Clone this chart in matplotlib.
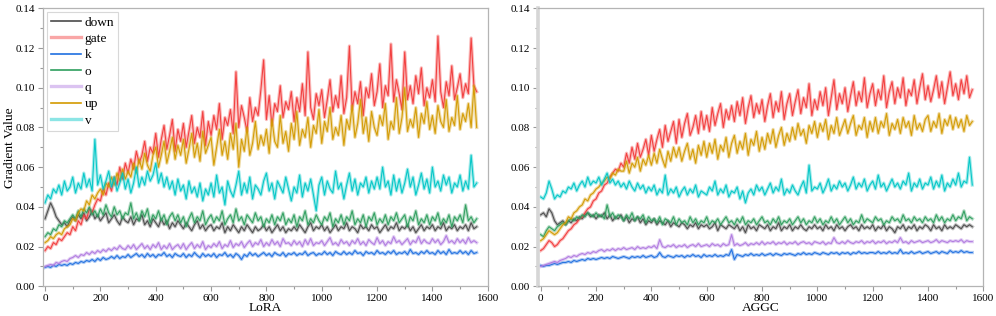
import numpy as np
import matplotlib
matplotlib.use("Agg")
import matplotlib.pyplot as plt
from matplotlib.lines import Line2D
from matplotlib.ticker import MultipleLocator, FormatStrFormatter

plt.rcParams['font.family'] = ['Liberation Serif', 'DejaVu Serif']

# ---------------- data (gradient values sampled every 10 steps) ----------------
sample_every = 10
modules = ["down", "gate", "k", "o", "q", "up", "v"]
panel_titles = ["LoRA", "AGGC"]
y_label = "Gradient Value"

lora_down = [
    0.034, 0.038, 0.042, 0.039, 0.035, 0.033, 0.031, 0.032, 0.030, 0.033,
    0.035, 0.033, 0.036, 0.034, 0.037, 0.033, 0.035, 0.038, 0.034, 0.036,
    0.033, 0.035, 0.037, 0.032, 0.034, 0.036, 0.033, 0.031, 0.035, 0.033,
    0.032, 0.035, 0.031, 0.034, 0.033, 0.036, 0.031, 0.033, 0.030, 0.034,
    0.032, 0.030, 0.034, 0.031, 0.033, 0.029, 0.032, 0.030, 0.033, 0.031,
    0.029, 0.032, 0.030, 0.028, 0.031, 0.033, 0.029, 0.031, 0.028, 0.030,
    0.031, 0.028, 0.030, 0.029, 0.032, 0.027, 0.030, 0.028, 0.031, 0.029,
    0.027, 0.030, 0.028, 0.031, 0.029, 0.027, 0.030, 0.028, 0.029, 0.031,
    0.028, 0.030, 0.027, 0.029, 0.031, 0.028, 0.030, 0.027, 0.029, 0.028,
    0.030, 0.028, 0.031, 0.029, 0.027, 0.030, 0.032, 0.028, 0.030, 0.029,
    0.031, 0.028, 0.030, 0.027, 0.029, 0.031, 0.028, 0.030, 0.029, 0.032,
    0.028, 0.030, 0.029, 0.027, 0.031, 0.029, 0.030, 0.028, 0.031, 0.029,
    0.030, 0.027, 0.029, 0.031, 0.028, 0.030, 0.029, 0.032, 0.028, 0.030,
    0.029, 0.031, 0.028, 0.030, 0.027, 0.029, 0.031, 0.028, 0.030, 0.029,
    0.031, 0.028, 0.030, 0.029, 0.032, 0.028, 0.030, 0.029, 0.031, 0.028,
    0.030, 0.029, 0.031, 0.028, 0.032, 0.029, 0.030]

lora_gate = [
    0.018, 0.020, 0.019, 0.022, 0.021, 0.024, 0.023, 0.025, 0.027, 0.026,
    0.030, 0.028, 0.033, 0.031, 0.036, 0.034, 0.039, 0.037, 0.041, 0.044,
    0.043, 0.049, 0.046, 0.052, 0.048, 0.055, 0.051, 0.060, 0.054, 0.062,
    0.057, 0.064, 0.059, 0.068, 0.062, 0.066, 0.073, 0.063, 0.070, 0.067,
    0.077, 0.065, 0.074, 0.081, 0.069, 0.076, 0.084, 0.068, 0.079, 0.073,
    0.082, 0.070, 0.078, 0.086, 0.072, 0.080, 0.075, 0.088, 0.071, 0.083,
    0.076, 0.086, 0.079, 0.092, 0.074, 0.085, 0.081, 0.089, 0.077, 0.108,
    0.080, 0.091, 0.085, 0.078, 0.095, 0.083, 0.090, 0.086, 0.099, 0.114,
    0.084, 0.096, 0.081, 0.092, 0.088, 0.101, 0.085, 0.093, 0.089, 0.098,
    0.083, 0.095, 0.088, 0.102, 0.086, 0.118, 0.090, 0.084, 0.097, 0.091,
    0.099, 0.085, 0.094, 0.104, 0.088, 0.096, 0.090, 0.106, 0.087, 0.095,
    0.121, 0.089, 0.098, 0.092, 0.103, 0.086, 0.100, 0.095, 0.107, 0.091,
    0.098, 0.112, 0.090, 0.101, 0.096, 0.122, 0.093, 0.104, 0.097, 0.089,
    0.118, 0.094, 0.101, 0.092, 0.106, 0.097, 0.110, 0.091, 0.100, 0.095,
    0.104, 0.093, 0.126, 0.098, 0.090, 0.103, 0.096, 0.111, 0.094, 0.100,
    0.107, 0.095, 0.102, 0.097, 0.125, 0.101, 0.098]

lora_k = [
    0.0095, 0.0100, 0.0095, 0.0105, 0.0100, 0.0110, 0.0105, 0.0110, 0.0105, 0.0115,
    0.0110, 0.0120, 0.0115, 0.0125, 0.0120, 0.0130, 0.0125, 0.0135, 0.0125, 0.0140,
    0.0130, 0.0145, 0.0135, 0.0140, 0.0150, 0.0140, 0.0155, 0.0140, 0.0150, 0.0145,
    0.0160, 0.0145, 0.0155, 0.0165, 0.0150, 0.0160, 0.0145, 0.0165, 0.0150, 0.0160,
    0.0145, 0.0160, 0.0155, 0.0170, 0.0150, 0.0160, 0.0145, 0.0165, 0.0155, 0.0150,
    0.0165, 0.0145, 0.0160, 0.0150, 0.0170, 0.0155, 0.0145, 0.0165, 0.0150, 0.0160,
    0.0150, 0.0165, 0.0145, 0.0160, 0.0155, 0.0170, 0.0150, 0.0160, 0.0145, 0.0165,
    0.0155, 0.0135, 0.0160, 0.0150, 0.0170, 0.0155, 0.0165, 0.0150, 0.0160, 0.0170,
    0.0155, 0.0165, 0.0150, 0.0170, 0.0160, 0.0155, 0.0170, 0.0150, 0.0165, 0.0160,
    0.0170, 0.0155, 0.0165, 0.0160, 0.0175, 0.0155, 0.0165, 0.0170, 0.0155, 0.0165,
    0.0160, 0.0175, 0.0160, 0.0170, 0.0155, 0.0175, 0.0165, 0.0160, 0.0175, 0.0160,
    0.0170, 0.0160, 0.0180, 0.0165, 0.0170, 0.0155, 0.0175, 0.0165, 0.0170, 0.0160,
    0.0180, 0.0165, 0.0170, 0.0160, 0.0175, 0.0165, 0.0180, 0.0160, 0.0170, 0.0165,
    0.0175, 0.0160, 0.0185, 0.0165, 0.0170, 0.0160, 0.0175, 0.0165, 0.0180, 0.0165,
    0.0170, 0.0160, 0.0180, 0.0165, 0.0175, 0.0160, 0.0185, 0.0165, 0.0170, 0.0165,
    0.0180, 0.0165, 0.0175, 0.0160, 0.0180, 0.0165, 0.0170]

lora_o = [
    0.025, 0.027, 0.026, 0.029, 0.028, 0.031, 0.030, 0.033, 0.032, 0.034,
    0.036, 0.034, 0.038, 0.035, 0.039, 0.037, 0.040, 0.036, 0.038, 0.035,
    0.039, 0.036, 0.041, 0.037, 0.035, 0.040, 0.036, 0.038, 0.034, 0.037,
    0.036, 0.042, 0.034, 0.037, 0.033, 0.038, 0.035, 0.039, 0.032, 0.036,
    0.034, 0.038, 0.033, 0.036, 0.031, 0.035, 0.037, 0.033, 0.036, 0.032,
    0.035, 0.030, 0.034, 0.037, 0.032, 0.035, 0.033, 0.038, 0.031, 0.034,
    0.036, 0.032, 0.035, 0.033, 0.038, 0.031, 0.034, 0.036, 0.032, 0.039,
    0.033, 0.035, 0.031, 0.036, 0.034, 0.032, 0.037, 0.033, 0.035, 0.030,
    0.034, 0.032, 0.036, 0.031, 0.035, 0.033, 0.037, 0.031, 0.034, 0.032,
    0.036, 0.030, 0.035, 0.033, 0.038, 0.031, 0.034, 0.032, 0.036, 0.033,
    0.031, 0.035, 0.033, 0.037, 0.030, 0.034, 0.032, 0.036, 0.031, 0.035,
    0.033, 0.038, 0.031, 0.034, 0.032, 0.036, 0.030, 0.035, 0.033, 0.037,
    0.031, 0.034, 0.032, 0.036, 0.031, 0.035, 0.033, 0.037, 0.032, 0.034,
    0.036, 0.030, 0.035, 0.033, 0.038, 0.031, 0.034, 0.032, 0.036, 0.031,
    0.035, 0.033, 0.037, 0.031, 0.034, 0.032, 0.036, 0.030, 0.035, 0.033,
    0.036, 0.032, 0.041, 0.033, 0.035, 0.032, 0.034]

lora_q = [
    0.0100, 0.0105, 0.0110, 0.0105, 0.0120, 0.0115, 0.0125, 0.0130, 0.0125, 0.0140,
    0.0145, 0.0155, 0.0145, 0.0160, 0.0155, 0.0170, 0.0160, 0.0175, 0.0165, 0.0180,
    0.0170, 0.0185, 0.0175, 0.0190, 0.0180, 0.0195, 0.0185, 0.0205, 0.0190, 0.0185,
    0.0205, 0.0190, 0.0210, 0.0185, 0.0200, 0.0215, 0.0190, 0.0205, 0.0185, 0.0210,
    0.0195, 0.0220, 0.0185, 0.0205, 0.0190, 0.0215, 0.0185, 0.0200, 0.0210, 0.0190,
    0.0215, 0.0185, 0.0205, 0.0220, 0.0190, 0.0210, 0.0195, 0.0225, 0.0185, 0.0205,
    0.0195, 0.0215, 0.0200, 0.0225, 0.0190, 0.0210, 0.0200, 0.0230, 0.0195, 0.0215,
    0.0205, 0.0225, 0.0195, 0.0215, 0.0230, 0.0200, 0.0220, 0.0210, 0.0235, 0.0200,
    0.0220, 0.0205, 0.0235, 0.0210, 0.0225, 0.0200, 0.0240, 0.0215, 0.0220, 0.0205,
    0.0230, 0.0210, 0.0225, 0.0200, 0.0235, 0.0210, 0.0240, 0.0205, 0.0220, 0.0215,
    0.0230, 0.0205, 0.0225, 0.0245, 0.0210, 0.0220, 0.0205, 0.0235, 0.0215, 0.0225,
    0.0205, 0.0230, 0.0215, 0.0240, 0.0210, 0.0225, 0.0205, 0.0235, 0.0220, 0.0210,
    0.0245, 0.0215, 0.0230, 0.0205, 0.0225, 0.0215, 0.0250, 0.0220, 0.0230, 0.0210,
    0.0225, 0.0240, 0.0210, 0.0230, 0.0220, 0.0250, 0.0215, 0.0235, 0.0220, 0.0215,
    0.0240, 0.0220, 0.0235, 0.0210, 0.0225, 0.0255, 0.0220, 0.0230, 0.0215, 0.0240,
    0.0220, 0.0235, 0.0215, 0.0245, 0.0220, 0.0230, 0.0220]

lora_up = [
    0.022, 0.023, 0.025, 0.024, 0.026, 0.027, 0.026, 0.029, 0.030, 0.031,
    0.034, 0.033, 0.037, 0.039, 0.038, 0.043, 0.041, 0.046, 0.044, 0.047,
    0.049, 0.046, 0.052, 0.050, 0.055, 0.051, 0.057, 0.053, 0.059, 0.054,
    0.058, 0.055, 0.062, 0.057, 0.064, 0.059, 0.067, 0.061, 0.058, 0.066,
    0.070, 0.060, 0.066, 0.073, 0.062, 0.068, 0.075, 0.064, 0.071, 0.066,
    0.074, 0.062, 0.069, 0.077, 0.065, 0.072, 0.063, 0.078, 0.067, 0.071,
    0.075, 0.061, 0.070, 0.079, 0.066, 0.073, 0.064, 0.077, 0.069, 0.082,
    0.060, 0.074, 0.068, 0.080, 0.066, 0.072, 0.083, 0.069, 0.076, 0.071,
    0.079, 0.067, 0.084, 0.073, 0.070, 0.086, 0.072, 0.078, 0.068, 0.082,
    0.074, 0.088, 0.071, 0.079, 0.075, 0.085, 0.070, 0.081, 0.077, 0.089,
    0.072, 0.083, 0.078, 0.090, 0.074, 0.080, 0.076, 0.086, 0.071, 0.084,
    0.079, 0.091, 0.075, 0.082, 0.094, 0.077, 0.085, 0.073, 0.088, 0.080,
    0.076, 0.086, 0.081, 0.092, 0.074, 0.083, 0.079, 0.095, 0.077, 0.085,
    0.100, 0.078, 0.084, 0.080, 0.090, 0.075, 0.087, 0.082, 0.093, 0.079,
    0.086, 0.077, 0.091, 0.083, 0.080, 0.094, 0.078, 0.085, 0.081, 0.096,
    0.079, 0.087, 0.083, 0.092, 0.080, 0.101, 0.080]

lora_v = [
    0.042, 0.046, 0.044, 0.049, 0.047, 0.051, 0.046, 0.053, 0.048, 0.050,
    0.055, 0.047, 0.052, 0.049, 0.057, 0.050, 0.054, 0.048, 0.074, 0.051,
    0.056, 0.049, 0.053, 0.058, 0.050, 0.055, 0.048, 0.052, 0.057, 0.049,
    0.054, 0.047, 0.052, 0.060, 0.050, 0.055, 0.051, 0.058, 0.053, 0.056,
    0.062, 0.052, 0.057, 0.050, 0.055, 0.049, 0.053, 0.046, 0.054, 0.048,
    0.051, 0.044, 0.053, 0.047, 0.050, 0.045, 0.052, 0.043, 0.049, 0.046,
    0.052, 0.045, 0.056, 0.047, 0.050, 0.041, 0.053, 0.048, 0.045, 0.051,
    0.058, 0.046, 0.052, 0.047, 0.055, 0.044, 0.051, 0.049, 0.046, 0.053,
    0.057, 0.048, 0.052, 0.044, 0.053, 0.050, 0.047, 0.055, 0.049, 0.043,
    0.050, 0.047, 0.056, 0.045, 0.052, 0.048, 0.054, 0.046, 0.038, 0.051,
    0.055, 0.046, 0.053, 0.049, 0.047, 0.058, 0.049, 0.052, 0.044, 0.051,
    0.057, 0.048, 0.054, 0.046, 0.052, 0.050, 0.055, 0.047, 0.053, 0.049,
    0.055, 0.049, 0.060, 0.050, 0.053, 0.046, 0.056, 0.048, 0.054, 0.047,
    0.052, 0.059, 0.050, 0.055, 0.046, 0.051, 0.057, 0.049, 0.054, 0.047,
    0.060, 0.050, 0.053, 0.048, 0.056, 0.051, 0.055, 0.047, 0.052, 0.050,
    0.056, 0.048, 0.053, 0.049, 0.066, 0.050, 0.052]

aggc_down = [
    0.036, 0.037, 0.035, 0.039, 0.037, 0.033, 0.031, 0.032, 0.033, 0.031,
    0.033, 0.032, 0.034, 0.033, 0.035, 0.034, 0.036, 0.037, 0.035, 0.036,
    0.034, 0.036, 0.035, 0.037, 0.034, 0.036, 0.033, 0.035, 0.034, 0.036,
    0.033, 0.035, 0.032, 0.034, 0.033, 0.035, 0.032, 0.034, 0.031, 0.033,
    0.032, 0.034, 0.031, 0.033, 0.032, 0.031, 0.033, 0.030, 0.032, 0.031,
    0.030, 0.032, 0.031, 0.029, 0.031, 0.030, 0.032, 0.029, 0.031, 0.030,
    0.031, 0.029, 0.030, 0.032, 0.028, 0.031, 0.030, 0.029, 0.031, 0.030,
    0.029, 0.031, 0.028, 0.030, 0.027, 0.031, 0.029, 0.030, 0.028, 0.031,
    0.030, 0.029, 0.031, 0.028, 0.030, 0.029, 0.032, 0.028, 0.030, 0.029,
    0.031, 0.028, 0.030, 0.029, 0.031, 0.029, 0.028, 0.030, 0.029, 0.031,
    0.029, 0.030, 0.028, 0.031, 0.029, 0.030, 0.028, 0.031, 0.029, 0.030,
    0.028, 0.030, 0.031, 0.029, 0.030, 0.028, 0.031, 0.029, 0.030, 0.029,
    0.031, 0.028, 0.030, 0.029, 0.031, 0.028, 0.030, 0.029, 0.027, 0.030,
    0.029, 0.031, 0.028, 0.030, 0.029, 0.031, 0.028, 0.030, 0.029, 0.031,
    0.030, 0.028, 0.031, 0.029, 0.030, 0.028, 0.031, 0.029, 0.030, 0.029,
    0.031, 0.030, 0.029, 0.031, 0.030, 0.031, 0.030]

aggc_gate = [
    0.018, 0.019, 0.021, 0.023, 0.022, 0.020, 0.021, 0.023, 0.024, 0.026,
    0.028, 0.029, 0.031, 0.032, 0.034, 0.035, 0.037, 0.039, 0.040, 0.043,
    0.044, 0.047, 0.048, 0.051, 0.052, 0.055, 0.057, 0.059, 0.058, 0.062,
    0.060, 0.067, 0.062, 0.070, 0.064, 0.072, 0.065, 0.069, 0.074, 0.066,
    0.076, 0.068, 0.074, 0.079, 0.070, 0.081, 0.073, 0.078, 0.083, 0.072,
    0.084, 0.075, 0.082, 0.087, 0.076, 0.080, 0.086, 0.077, 0.088, 0.079,
    0.086, 0.078, 0.090, 0.081, 0.087, 0.092, 0.080, 0.089, 0.084, 0.091,
    0.083, 0.093, 0.086, 0.095, 0.082, 0.090, 0.096, 0.085, 0.092, 0.087,
    0.094, 0.083, 0.091, 0.097, 0.085, 0.093, 0.088, 0.098, 0.084, 0.092,
    0.097, 0.086, 0.093, 0.099, 0.087, 0.095, 0.090, 0.102, 0.086, 0.094,
    0.089, 0.098, 0.091, 0.100, 0.086, 0.095, 0.104, 0.089, 0.097, 0.092,
    0.100, 0.088, 0.096, 0.103, 0.091, 0.098, 0.093, 0.105, 0.090, 0.097,
    0.102, 0.091, 0.099, 0.094, 0.106, 0.090, 0.098, 0.103, 0.092, 0.100,
    0.095, 0.105, 0.091, 0.099, 0.096, 0.104, 0.092, 0.100, 0.107, 0.094,
    0.101, 0.093, 0.099, 0.106, 0.095, 0.103, 0.092, 0.100, 0.108, 0.096,
    0.102, 0.094, 0.104, 0.097, 0.106, 0.095, 0.099]

aggc_k = [
    0.0105, 0.0100, 0.0105, 0.0105, 0.0110, 0.0115, 0.0110, 0.0115, 0.0120, 0.0120,
    0.0125, 0.0120, 0.0130, 0.0125, 0.0130, 0.0135, 0.0130, 0.0140, 0.0135, 0.0140,
    0.0135, 0.0140, 0.0145, 0.0140, 0.0145, 0.0140, 0.0150, 0.0145, 0.0140, 0.0145,
    0.0150, 0.0145, 0.0140, 0.0150, 0.0145, 0.0150, 0.0145, 0.0155, 0.0145, 0.0150,
    0.0155, 0.0145, 0.0150, 0.0170, 0.0150, 0.0145, 0.0155, 0.0150, 0.0145, 0.0155,
    0.0150, 0.0155, 0.0145, 0.0155, 0.0150, 0.0160, 0.0150, 0.0155, 0.0145, 0.0160,
    0.0150, 0.0155, 0.0150, 0.0160, 0.0150, 0.0155, 0.0150, 0.0160, 0.0155, 0.0185,
    0.0135, 0.0160, 0.0155, 0.0150, 0.0160, 0.0155, 0.0165, 0.0155, 0.0160, 0.0155,
    0.0165, 0.0155, 0.0160, 0.0165, 0.0155, 0.0165, 0.0160, 0.0155, 0.0165, 0.0160,
    0.0165, 0.0160, 0.0155, 0.0165, 0.0160, 0.0170, 0.0160, 0.0165, 0.0160, 0.0170,
    0.0165, 0.0160, 0.0170, 0.0165, 0.0160, 0.0170, 0.0165, 0.0170, 0.0160, 0.0170,
    0.0165, 0.0170, 0.0160, 0.0170, 0.0165, 0.0175, 0.0165, 0.0170, 0.0165, 0.0170,
    0.0170, 0.0165, 0.0175, 0.0165, 0.0170, 0.0165, 0.0175, 0.0165, 0.0170, 0.0165,
    0.0185, 0.0165, 0.0170, 0.0165, 0.0175, 0.0165, 0.0170, 0.0175, 0.0165, 0.0170,
    0.0175, 0.0165, 0.0170, 0.0175, 0.0165, 0.0175, 0.0170, 0.0165, 0.0180, 0.0170,
    0.0175, 0.0170, 0.0180, 0.0170, 0.0175, 0.0170, 0.0170]

aggc_o = [
    0.026, 0.025, 0.028, 0.030, 0.029, 0.028, 0.030, 0.031, 0.032, 0.031,
    0.033, 0.034, 0.033, 0.035, 0.034, 0.036, 0.035, 0.037, 0.036, 0.035,
    0.037, 0.035, 0.036, 0.034, 0.041, 0.035, 0.037, 0.034, 0.036, 0.035,
    0.033, 0.036, 0.034, 0.037, 0.033, 0.035, 0.034, 0.036, 0.032, 0.035,
    0.033, 0.034, 0.032, 0.035, 0.031, 0.034, 0.033, 0.032, 0.035, 0.031,
    0.034, 0.032, 0.033, 0.031, 0.035, 0.032, 0.034, 0.031, 0.033, 0.032,
    0.035, 0.031, 0.033, 0.032, 0.034, 0.031, 0.033, 0.035, 0.032, 0.033,
    0.031, 0.034, 0.032, 0.035, 0.031, 0.033, 0.032, 0.034, 0.031, 0.033,
    0.035, 0.032, 0.033, 0.031, 0.034, 0.032, 0.035, 0.031, 0.033, 0.032,
    0.034, 0.031, 0.033, 0.035, 0.032, 0.034, 0.031, 0.033, 0.032, 0.035,
    0.032, 0.034, 0.031, 0.033, 0.032, 0.035, 0.032, 0.034, 0.031, 0.033,
    0.035, 0.032, 0.034, 0.031, 0.033, 0.032, 0.036, 0.032, 0.034, 0.033,
    0.032, 0.035, 0.033, 0.034, 0.031, 0.033, 0.032, 0.035, 0.033, 0.034,
    0.032, 0.036, 0.033, 0.034, 0.032, 0.035, 0.033, 0.034, 0.032, 0.035,
    0.033, 0.034, 0.032, 0.036, 0.033, 0.035, 0.032, 0.034, 0.033, 0.036,
    0.033, 0.035, 0.034, 0.038, 0.033, 0.035, 0.034]

aggc_q = [
    0.0100, 0.0105, 0.0110, 0.0115, 0.0120, 0.0125, 0.0120, 0.0130, 0.0135, 0.0140,
    0.0150, 0.0145, 0.0155, 0.0150, 0.0160, 0.0165, 0.0160, 0.0170, 0.0165, 0.0175,
    0.0170, 0.0180, 0.0185, 0.0175, 0.0185, 0.0180, 0.0190, 0.0180, 0.0190, 0.0185,
    0.0195, 0.0185, 0.0190, 0.0195, 0.0185, 0.0200, 0.0190, 0.0195, 0.0190, 0.0200,
    0.0195, 0.0205, 0.0190, 0.0235, 0.0200, 0.0195, 0.0205, 0.0200, 0.0210, 0.0195,
    0.0205, 0.0200, 0.0210, 0.0195, 0.0205, 0.0210, 0.0200, 0.0215, 0.0200, 0.0205,
    0.0210, 0.0200, 0.0215, 0.0205, 0.0210, 0.0200, 0.0215, 0.0205, 0.0210, 0.0260,
    0.0205, 0.0215, 0.0205, 0.0210, 0.0220, 0.0205, 0.0215, 0.0210, 0.0220, 0.0210,
    0.0225, 0.0210, 0.0220, 0.0215, 0.0225, 0.0210, 0.0220, 0.0215, 0.0225, 0.0210,
    0.0220, 0.0215, 0.0225, 0.0210, 0.0220, 0.0225, 0.0215, 0.0220, 0.0210, 0.0225,
    0.0220, 0.0215, 0.0225, 0.0210, 0.0220, 0.0215, 0.0245, 0.0220, 0.0215, 0.0225,
    0.0215, 0.0230, 0.0220, 0.0215, 0.0225, 0.0220, 0.0230, 0.0215, 0.0225, 0.0220,
    0.0230, 0.0215, 0.0225, 0.0220, 0.0230, 0.0215, 0.0225, 0.0220, 0.0230, 0.0220,
    0.0245, 0.0220, 0.0225, 0.0215, 0.0230, 0.0220, 0.0225, 0.0230, 0.0220, 0.0225,
    0.0230, 0.0220, 0.0225, 0.0235, 0.0220, 0.0230, 0.0225, 0.0220, 0.0230, 0.0225,
    0.0230, 0.0225, 0.0235, 0.0220, 0.0230, 0.0225, 0.0225]

aggc_up = [
    0.023, 0.024, 0.026, 0.028, 0.027, 0.026, 0.027, 0.029, 0.031, 0.032,
    0.035, 0.034, 0.037, 0.038, 0.040, 0.041, 0.044, 0.043, 0.046, 0.047,
    0.049, 0.050, 0.052, 0.053, 0.055, 0.054, 0.057, 0.056, 0.059, 0.058,
    0.058, 0.063, 0.057, 0.062, 0.060, 0.065, 0.058, 0.064, 0.061, 0.066,
    0.061, 0.067, 0.062, 0.069, 0.064, 0.060, 0.068, 0.063, 0.070, 0.065,
    0.070, 0.063, 0.068, 0.072, 0.064, 0.069, 0.062, 0.071, 0.066, 0.073,
    0.065, 0.072, 0.067, 0.074, 0.064, 0.071, 0.068, 0.075, 0.065, 0.072,
    0.076, 0.067, 0.073, 0.069, 0.077, 0.066, 0.074, 0.071, 0.078, 0.068,
    0.075, 0.069, 0.077, 0.072, 0.079, 0.070, 0.076, 0.080, 0.071, 0.077,
    0.073, 0.080, 0.074, 0.082, 0.076, 0.079, 0.072, 0.081, 0.077, 0.083,
    0.075, 0.082, 0.078, 0.084, 0.074, 0.081, 0.077, 0.085, 0.076, 0.080,
    0.084, 0.077, 0.082, 0.086, 0.076, 0.081, 0.079, 0.085, 0.075, 0.083,
    0.078, 0.085, 0.077, 0.083, 0.080, 0.087, 0.076, 0.082, 0.079, 0.084,
    0.077, 0.085, 0.080, 0.083, 0.076, 0.086, 0.079, 0.082, 0.078, 0.084,
    0.086, 0.078, 0.083, 0.080, 0.087, 0.077, 0.084, 0.081, 0.086, 0.079,
    0.085, 0.080, 0.084, 0.078, 0.086, 0.081, 0.083]

aggc_v = [
    0.045, 0.044, 0.047, 0.053, 0.049, 0.044, 0.046, 0.045, 0.048, 0.047,
    0.050, 0.049, 0.052, 0.048, 0.051, 0.053, 0.050, 0.055, 0.051, 0.053,
    0.052, 0.055, 0.051, 0.054, 0.057, 0.052, 0.054, 0.051, 0.053, 0.050,
    0.052, 0.049, 0.053, 0.050, 0.048, 0.052, 0.049, 0.051, 0.047, 0.050,
    0.048, 0.051, 0.046, 0.049, 0.047, 0.056, 0.046, 0.049, 0.047, 0.050,
    0.045, 0.048, 0.050, 0.046, 0.049, 0.047, 0.051, 0.045, 0.048, 0.047,
    0.046, 0.050, 0.048, 0.053, 0.046, 0.049, 0.047, 0.051, 0.045, 0.048,
    0.047, 0.050, 0.044, 0.048, 0.042, 0.047, 0.049, 0.046, 0.051, 0.048,
    0.050, 0.046, 0.049, 0.052, 0.047, 0.050, 0.048, 0.054, 0.046, 0.049,
    0.047, 0.051, 0.048, 0.046, 0.050, 0.053, 0.047, 0.061, 0.048, 0.050,
    0.049, 0.052, 0.047, 0.050, 0.054, 0.048, 0.051, 0.049, 0.053, 0.050,
    0.052, 0.048, 0.051, 0.055, 0.049, 0.052, 0.050, 0.054, 0.048, 0.051,
    0.053, 0.049, 0.056, 0.050, 0.052, 0.048, 0.051, 0.054, 0.050, 0.052,
    0.049, 0.053, 0.051, 0.057, 0.048, 0.052, 0.050, 0.054, 0.049, 0.052,
    0.051, 0.055, 0.049, 0.053, 0.050, 0.056, 0.048, 0.052, 0.050, 0.054,
    0.051, 0.057, 0.050, 0.053, 0.052, 0.065, 0.051]

x_ticks = [0, 200, 400, 600, 800, 1000, 1200, 1400, 1600]
y_ticks = [0.00, 0.02, 0.04, 0.06, 0.08, 0.10, 0.12, 0.14]

# ---------------- style ----------------
colors = {
    "down": "#4a4a4a",
    "gate": "#f23b3b",
    "k": "#1f6fe0",
    "o": "#2e9e5e",
    "q": "#b07ae0",
    "up": "#d39a00",
    "v": "#00c6c6",
}

panels = [
    {"down": lora_down, "gate": lora_gate, "k": lora_k, "o": lora_o,
     "q": lora_q, "up": lora_up, "v": lora_v},
    {"down": aggc_down, "gate": aggc_gate, "k": aggc_k, "o": aggc_o,
     "q": aggc_q, "up": aggc_up, "v": aggc_v},
]

fig = plt.figure(figsize=(9.96, 3.16), dpi=100)
ax_positions = [
    [0.0429, 0.094, 0.4468, 0.8797],
    [0.5399, 0.094, 0.4474, 0.8797],
]
x_left = [-8.5, -10.8]
spine_col = "#b4b4b4"

for idx, (pos, data, title) in enumerate(zip(ax_positions, panels, panel_titles)):
    ax = fig.add_axes(pos)
    for name in modules:
        y = np.asarray(data[name])
        x = np.arange(len(y)) * sample_every
        ax.plot(x, y, color=colors[name], lw=2.4, alpha=0.35,
                solid_joinstyle="round")
        ax.plot(x, y, color=colors[name], lw=0.8, alpha=0.95)
    ax.set_xlim(x_left[idx], 1600)
    ax.set_ylim(0, 0.14)
    ax.set_xticks(x_ticks)
    ax.set_yticks(y_ticks)
    ax.xaxis.set_minor_locator(MultipleLocator(100))
    ax.yaxis.set_minor_locator(MultipleLocator(0.01))
    ax.yaxis.set_major_formatter(FormatStrFormatter("%.2f"))
    ax.tick_params(which="both", direction="out", color="#9a9a9a",
                   labelsize=8.0, width=0.8, pad=2)
    ax.tick_params(which="major", length=3.5)
    ax.tick_params(which="minor", length=2)
    for sp in ax.spines.values():
        sp.set_color(spine_col)
        sp.set_linewidth(0.9)
    if idx == 1:
        ax.spines["left"].set_color("#d6d6d6")
        ax.spines["left"].set_linewidth(2.6)
    ax.set_xlabel(title, fontsize=9.6, labelpad=-1)
    if idx == 0:
        ax.set_ylabel(y_label, fontsize=9.6)
        ax.yaxis.set_label_coords(-0.06, 0.5)
        handles = []
        for name in modules:
            if name in ("gate", "q", "v"):
                h = Line2D([], [], color=colors[name], lw=2.4, alpha=0.45)
            else:
                h = Line2D([], [], color=colors[name], lw=1.2)
            handles.append(h)
        leg = ax.legend(handles, modules, loc="upper left", fontsize=9.6,
                        frameon=True, fancybox=False, handlelength=2.3,
                        handletextpad=0.25, labelspacing=0.3,
                        borderpad=0.3, borderaxespad=0.3)
        leg.get_frame().set_edgecolor("#cfcfcf")
        leg.get_frame().set_linewidth(0.8)

fig.savefig("out.png", dpi=100)
